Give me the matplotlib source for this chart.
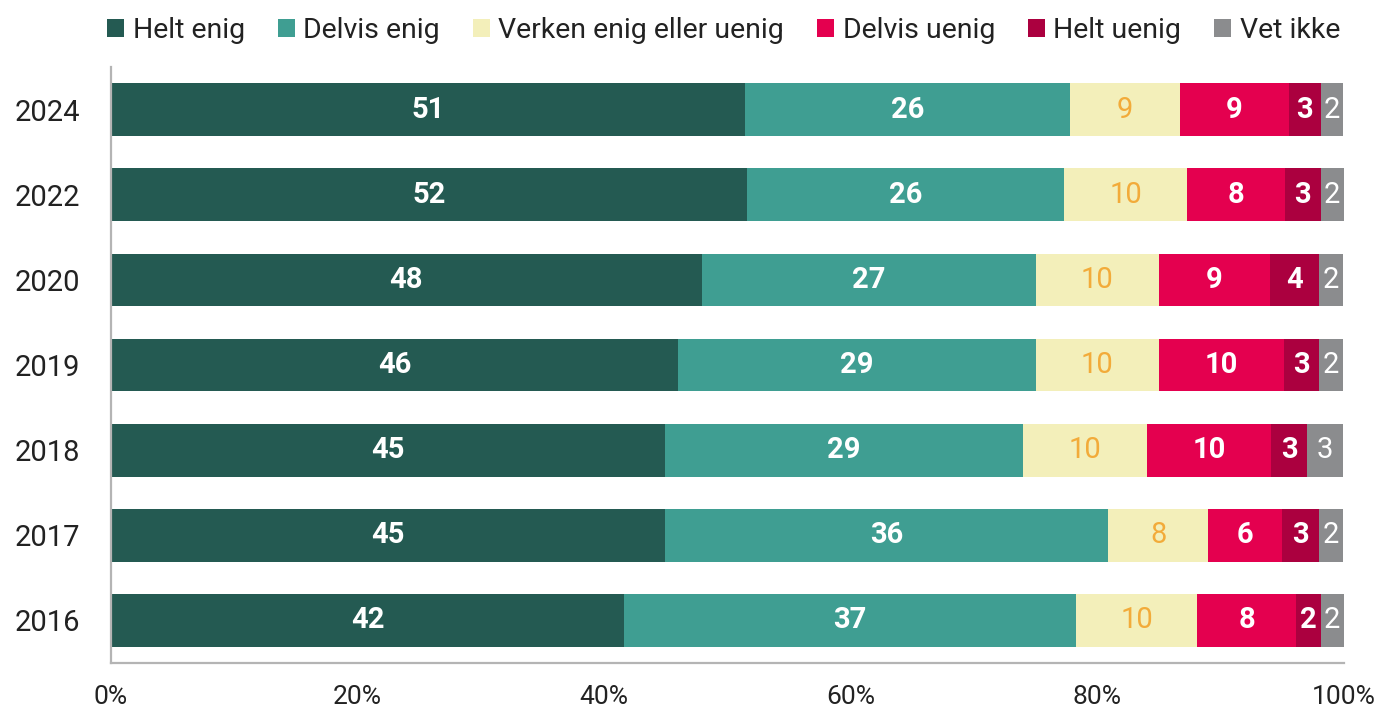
#!/usr/bin/env python3

import matplotlib
matplotlib.use('Agg')
import matplotlib.pyplot as plt
import numpy as np

# data (percent)
YEARS = ['2024', '2022', '2020', '2019', '2018', '2017', '2016']
HELT_ENIG = [51.4, 51.6, 47.9, 46.0, 44.9, 44.9, 41.6]
DELVIS_ENIG = [26.4, 25.7, 27.1, 29.0, 29.1, 36.0, 36.7]
VERKEN = [8.9, 10.0, 10.0, 10.0, 10.0, 8.1, 9.8]
DELVIS_UENIG = [8.8, 7.9, 9.0, 10.1, 10.1, 6.0, 8.0]
HELT_UENIG = [2.6, 2.9, 4.0, 2.9, 2.9, 3.0, 2.0]
VET_IKKE = [1.8, 1.9, 1.9, 1.9, 2.9, 1.9, 1.9]

SERIES = ['Helt enig', 'Delvis enig', 'Verken enig eller uenig',
          'Delvis uenig', 'Helt uenig', 'Vet ikke']
XTICKS = [0, 20, 40, 60, 80, 100]

# style
COLORS = ['#245a52', '#3f9e92', '#f3efba', '#e4004f', '#ab003f', '#8b8c8e']
TEXT_COLORS = ['white', 'white', '#f2ab3a', 'white', 'white', 'white']
TEXT_WEIGHTS = ['bold', 'bold', 'normal', 'bold', 'bold', 'normal']
SPINE_COLOR = '#b4b4b4'

plt.rcParams['font.family'] = ['Roboto', 'DejaVu Sans']

fig = plt.figure(figsize=(13.81, 7.12), dpi=100)
ax = fig.add_axes([0.0804, 0.0688, 0.8928, 0.837])

values = [HELT_ENIG, DELVIS_ENIG, VERKEN, DELVIS_UENIG, HELT_UENIG, VET_IKKE]
ypos = np.arange(len(YEARS))
left = np.zeros(len(YEARS))
for name, vals, col, tcol, tw in zip(SERIES, values, COLORS, TEXT_COLORS, TEXT_WEIGHTS):
    vals = np.array(vals)
    bars = ax.barh(ypos, vals, left=left, height=0.62, color=col, label=name)
    ax.bar_label(bars, labels=[f'{round(v):d}' for v in vals], label_type='center',
                 color=tcol, fontsize=21, fontweight=tw)
    left += vals

ax.set_ylim(len(YEARS) - 0.5, -0.5)
ax.set_xlim(0, 100)
ax.set_yticks(ypos)
ax.set_yticklabels(YEARS, fontsize=21, color='#222222')
ax.set_xticks(XTICKS)
ax.set_xticklabels([f'{t}%' for t in XTICKS], fontsize=19, color='#222222')
ax.tick_params(axis='y', length=0, pad=22)
ax.tick_params(axis='x', length=0, pad=16)

for s in ['top', 'right']:
    ax.spines[s].set_visible(False)
for s in ['left', 'bottom']:
    ax.spines[s].set_color(SPINE_COLOR)
    ax.spines[s].set_linewidth(1.6)

fig.legend(loc='upper center', bbox_to_anchor=(0.524, 1.012), ncol=6,
           frameon=False, fontsize=20.5, handlelength=0.6, handleheight=0.6,
           handletextpad=0.3, columnspacing=1.15, labelcolor='#222222')

plt.savefig('out.png', dpi=100)
plt.close()
